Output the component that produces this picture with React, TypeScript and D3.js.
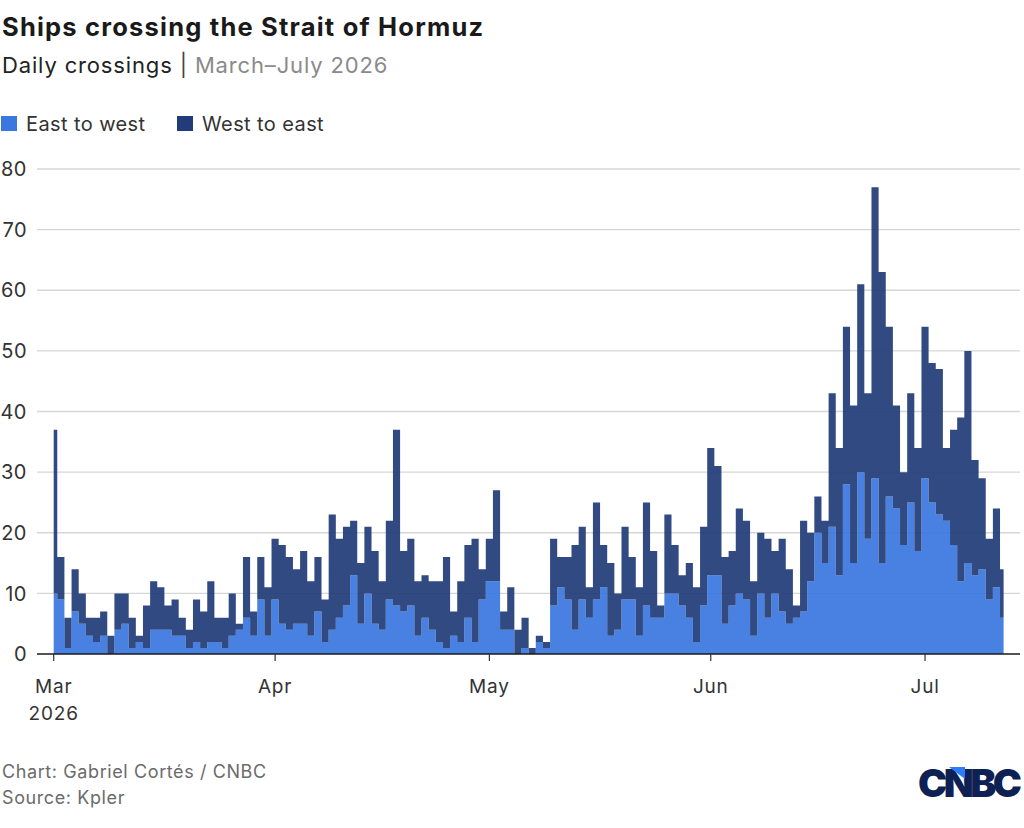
import React from "react";
import * as d3 from "d3";

// ── Data (daily crossings, Mar 1 – Jul 12, 2026) ─────────────────────────────

const START = Date.UTC(2026, 2, 1);
const DAY = 86400000;

// east to west, one value per day
const eastToWest = [
  // Mar
  10, 9, 1, 7, 5, 3, 2, 3, 0, 4, 5, 1, 2, 1, 4, 4, 4, 3, 3, 1, 2, 1, 2, 2, 1, 3, 4, 6, 3, 9, 3,
  // Apr
  9, 5, 4, 5, 5, 3, 7, 2, 4, 6, 8, 13, 5, 10, 5, 4, 9, 8, 7, 8, 3, 6, 4, 2, 1, 3, 2, 6, 2, 9,
  // May
  12, 12, 4, 4, 0, 1, 0, 2, 1, 8, 11, 9, 4, 9, 6, 9, 11, 3, 4, 9, 9, 3, 8, 6, 6, 10, 10, 8, 6, 2, 8,
  // Jun
  13, 13, 5, 8, 10, 9, 3, 10, 6, 10, 7, 5, 6, 7, 12, 20, 15, 21, 13, 28, 15, 30, 19, 29, 15, 26, 24, 18, 25, 17,
  // Jul
  29, 25, 23, 22, 18, 12, 15, 13, 14, 9, 11, 6,
];

// west to east, one value per day
const westToEast = [
  // Mar
  27, 7, 5, 7, 5, 3, 4, 4, 3, 6, 5, 5, 1, 7, 8, 7, 4, 6, 3, 3, 7, 6, 10, 4, 5, 7, 1, 10, 4, 7, 8,
  // Apr
  10, 13, 12, 9, 12, 9, 9, 7, 19, 13, 13, 9, 10, 11, 12, 8, 13, 29, 10, 11, 9, 7, 8, 10, 15, 4, 10, 12, 17, 5,
  // May
  7, 15, 3, 7, 4, 5, 1, 1, 1, 11, 5, 7, 14, 12, 5, 16, 7, 12, 6, 12, 7, 8, 17, 11, 2, 13, 8, 5, 9, 9, 13,
  // Jun
  21, 18, 11, 9, 14, 13, 9, 10, 13, 7, 12, 9, 2, 15, 8, 6, 7, 22, 21, 26, 26, 31, 24, 48, 48, 28, 17, 12, 18, 17,
  // Jul
  25, 23, 24, 12, 19, 27, 35, 19, 15, 10, 13, 8,
];

const yTicks = [0, 10, 20, 30, 40, 50, 60, 70, 80];
const monthLabels = ["Mar", "Apr", "May", "Jun", "Jul"];

const SERIES = [
  { key: "east", label: "East to west", color: "#3a77df" },
  { key: "west", label: "West to east", color: "#213c78" },
] as const;

interface Row {
  date: Date;
  east: number;
  west: number;
}

const rows: Row[] = eastToWest.map((v, i) => ({
  date: new Date(START + i * DAY),
  east: v,
  west: westToEast[i],
}));

// ── Layout ────────────────────────────────────────────────────────────────────

const W = 1024;
const H = 828;
const FONT = "Inter, 'Noto Sans', sans-serif";
const GRID_LEFT = 37;
const GRID_RIGHT = 1020;

export default function App() {
  const x = d3
    .scaleUtc()
    .domain([rows[0].date, rows[rows.length - 1].date])
    .range([53.7, 1003.6]);
  const y = d3.scaleLinear().domain([0, 80]).range([654, 169]);

  const series = d3
    .stack<Row, "east" | "west">()
    .keys(["east", "west"])
    .value((d, k) => d[k])(rows);

  const area = d3
    .area<d3.SeriesPoint<Row>>()
    .x((d) => x(d.data.date))
    .y0((d) => y(d[0]))
    .y1((d) => y(d[1]))
    .curve(d3.curveStep);

  const months = d3.utcMonth.range(new Date(START), new Date(Date.UTC(2026, 6, 13)));

  return (
    <div style={{ position: "absolute", left: 0, top: 0 }}>
      <svg width={W} height={H} style={{ display: "block", background: "#fff" }} fontFamily={FONT}>
        {/* Header */}
        <text x={2} y={36} fontSize={25.5} fontWeight={700} fill="#1a1a1a" letterSpacing={1.2}>
          Ships crossing the Strait of Hormuz
        </text>
        <text x={2} y={73} fontSize={22} fill="#222" letterSpacing={0.85}>
          Daily crossings <tspan fill="#444">|</tspan>{" "}
          <tspan fill="#8a8a8a">March–July 2026</tspan>
        </text>

        {/* Legend */}
        {SERIES.map((s, i) => {
          const lx = i === 0 ? 1 : 177;
          return (
            <g key={s.key} transform={`translate(${lx},116)`}>
              <rect width={16} height={15} fill={s.color} />
              <text x={25} y={15} fontSize={20} fill="#333" letterSpacing={0.4}>
                {s.label}
              </text>
            </g>
          );
        })}

        {/* Grid + y labels */}
        {yTicks.map((t) => (
          <g key={t}>
            {t > 0 && (
              <line x1={GRID_LEFT} x2={GRID_RIGHT} y1={y(t)} y2={y(t)} stroke="#d6d6d6" strokeWidth={1.3} />
            )}
            <text x={27} y={y(t)} dy="0.36em" textAnchor="end" fontSize={20} fill="#333" letterSpacing={0.5}>
              {t}
            </text>
          </g>
        ))}

        {/* Stacked step areas */}
        {series.map((layer, i) => (
          <path key={layer.key} d={area(layer) ?? ""} fill={SERIES[i].color} fillOpacity={0.93} />
        ))}

        {/* X axis */}
        <line x1={GRID_LEFT} x2={GRID_RIGHT} y1={y(0)} y2={y(0)} stroke="#1a1a1a" strokeWidth={1.5} />
        {months.map((m, i) => (
          <g key={i} transform={`translate(${x(m)},0)`}>
            <line y1={y(0)} y2={y(0) + 7} stroke="#333" strokeWidth={1.2} />
            <text y={693} textAnchor="middle" fontSize={19} fill="#333" letterSpacing={0.8}>
              {monthLabels[i]}
            </text>
            {i === 0 && (
              <text y={720} textAnchor="middle" fontSize={19} fill="#333" letterSpacing={0.8}>
                2026
              </text>
            )}
          </g>
        ))}

        {/* Footer */}
        <text x={2} y={778} fontSize={18} fill="#6b6b6b" letterSpacing={0.6}>
          Chart: Gabriel Cortés / CNBC
        </text>
        <text x={2} y={804} fontSize={18} fill="#6b6b6b" letterSpacing={0.6}>
          Source: Kpler
        </text>

        {/* CNBC wordmark */}
        <text x={918} y={797} fontSize={39} fontWeight={900} fill="#0d2152" letterSpacing={-3.5}>
          CNBC
        </text>
        <polygon points="949,767 965,767 965,779" fill="#2f7bf5" />
      </svg>
    </div>
  );
}
